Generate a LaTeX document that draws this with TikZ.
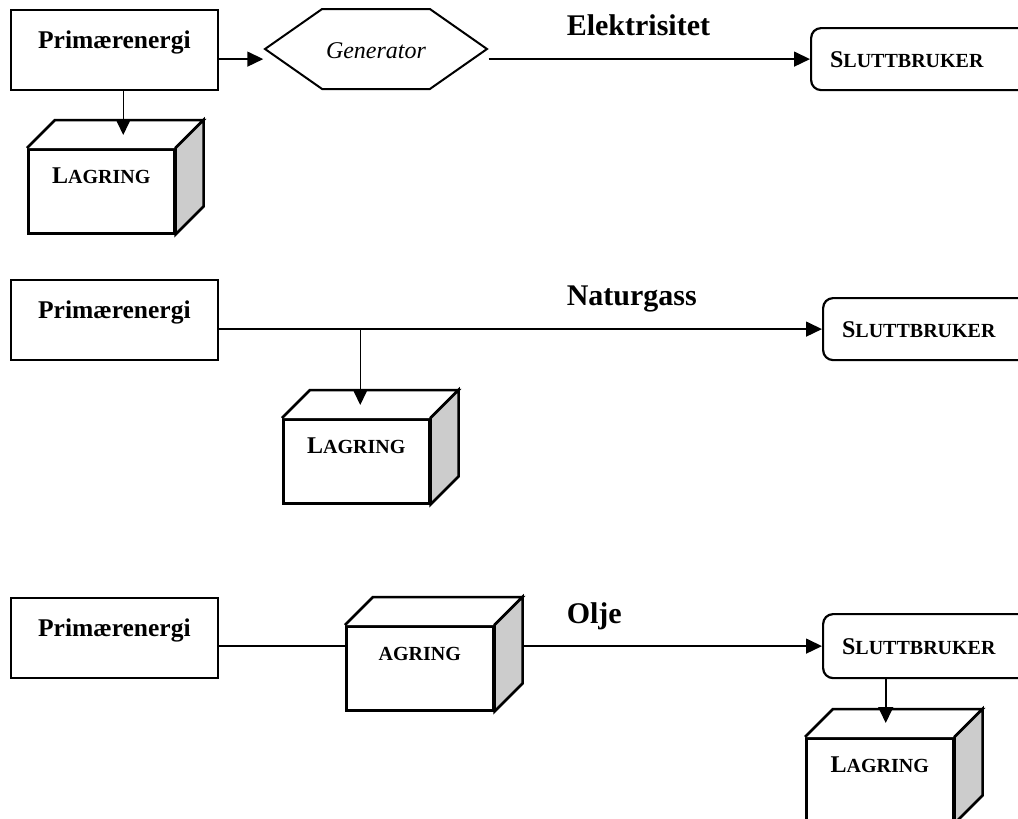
\documentclass[tikz,border=0pt]{standalone}
\usepackage{fontspec}
\setmainfont{Liberation Serif}
\usetikzlibrary{arrows.meta,shapes.symbols}

\definecolor{sidegray}{gray}{0.8}

% big first letter, small caps for the rest
\newcommand{\capsword}[2]{{\fontsize{24}{24}\selectfont #1}{\fontsize{20}{20}\selectfont #2}}

% top and side of a storage box
\newcommand{\cubeback}[1]{%
  \draw[line width=2.5pt, fill=white] (#1.north west) -- ([shift={(28pt,28pt)}]#1.north west)
    -- ([shift={(28pt,28pt)}]#1.north east) -- (#1.north east);
  \draw[line width=2.5pt, fill=sidegray] (#1.north east) -- ([shift={(28pt,28pt)}]#1.north east)
    -- ([shift={(28pt,28pt)}]#1.south east) -- (#1.south east) -- cycle;
}

\begin{document}
\begin{tikzpicture}[x=1pt, y=-1pt,
    >={Triangle[length=16pt,width=15pt]},
    every path/.style={line width=1.5pt},
    primbox/.style={draw, line width=1.8pt, anchor=north west,
      minimum width=207pt, minimum height=80pt, inner sep=0pt,
      text height=39pt, text depth=41pt,
      font=\bfseries\fontsize{25.5}{26}\selectfont},
    userbox/.style={draw, rounded corners=10pt, line width=2.2pt, anchor=north west,
      text width=210pt, align=left, inner xsep=19pt, inner ysep=0pt,
      minimum height=62pt, text height=39pt, text depth=23pt, font=\bfseries},
    lagerbox/.style={draw, line width=2.5pt, fill=white, anchor=north west,
      minimum width=146pt, minimum height=84pt, inner sep=0pt,
      text height=34pt, text depth=50pt, font=\bfseries},
    flowlabel/.style={anchor=base west, inner sep=0pt,
      font=\bfseries\fontsize{30}{30}\selectfont}
  ]
  \useasboundingbox (0,0) rectangle (1018,819);

  % Elektrisitet
  \node[primbox] (prim1) at (10,9) {Primærenergi};
  \node[signal, signal to=west and east, signal pointer angle=70,
    draw, line width=2pt, minimum width=222pt, minimum height=80pt, inner sep=0pt,
    text height=49pt, text depth=31pt,
    font=\itshape\fontsize{24}{24}\selectfont] (gen) at (376,49) {Generator};
  \node[userbox] (slutt1) at (810,27) {\capsword{S}{LUTTBRUKER}};
  \node[lagerbox] (lag1) at (27,148) {\capsword{L}{AGRING}};
  \cubeback{lag1}
  \node[flowlabel] (elektro) at (566,35) {Elektrisitet};

  \draw[->] (prim1.east |- slutt1.west) -- (gen.west |- slutt1.west);
  \draw[->] (gen.east |- slutt1.west) -- (slutt1.west);
  \draw[->] ([xshift=22pt]lag1.north |- prim1.south) -- ([xshift=22pt,yshift=13pt]lag1.north);

  % Naturgass
  \node[primbox] (prim2) at (10,279) {Primærenergi};
  \node[userbox] (slutt2) at (822,297) {\capsword{S}{LUTTBRUKER}};
  \node[lagerbox] (lag2) at (282,418) {\capsword{L}{AGRING}};
  \cubeback{lag2}
  \node[flowlabel] (gass) at (566,305) {Naturgass};

  \draw[->] (prim2.east |- slutt2.west) -- (slutt2.west);
  \draw[->] ([xshift=4pt]lag2.north |- slutt2.west) -- ([xshift=4pt,yshift=13pt]lag2.north);

  % Olje
  \node[primbox] (prim3) at (10,597) {Primærenergi};
  \node[userbox, minimum height=64pt, text depth=24pt, text height=40pt] (slutt3) at (822,613) {\capsword{S}{LUTTBRUKER}};
  \node[lagerbox, minimum width=147pt] (lag3) at (345,625) {{\fontsize{20}{20}\selectfont AGRING}};
  \cubeback{lag3}
  \node[lagerbox, minimum width=147pt] (lag4) at (805,737) {\capsword{L}{AGRING}};
  \cubeback{lag4}
  \node[flowlabel] (olje) at (566,623) {Olje};

  \draw (prim3.east |- slutt3.west) -- (lag3.west |- slutt3.west);
  \draw[->] ([xshift=28pt]lag3.east |- slutt3.west) -- (slutt3.west);
  \draw[->] ([xshift=6pt]lag4.north |- slutt3.south) -- ([xshift=6pt,yshift=14pt]lag4.north);
\end{tikzpicture}
\end{document}
